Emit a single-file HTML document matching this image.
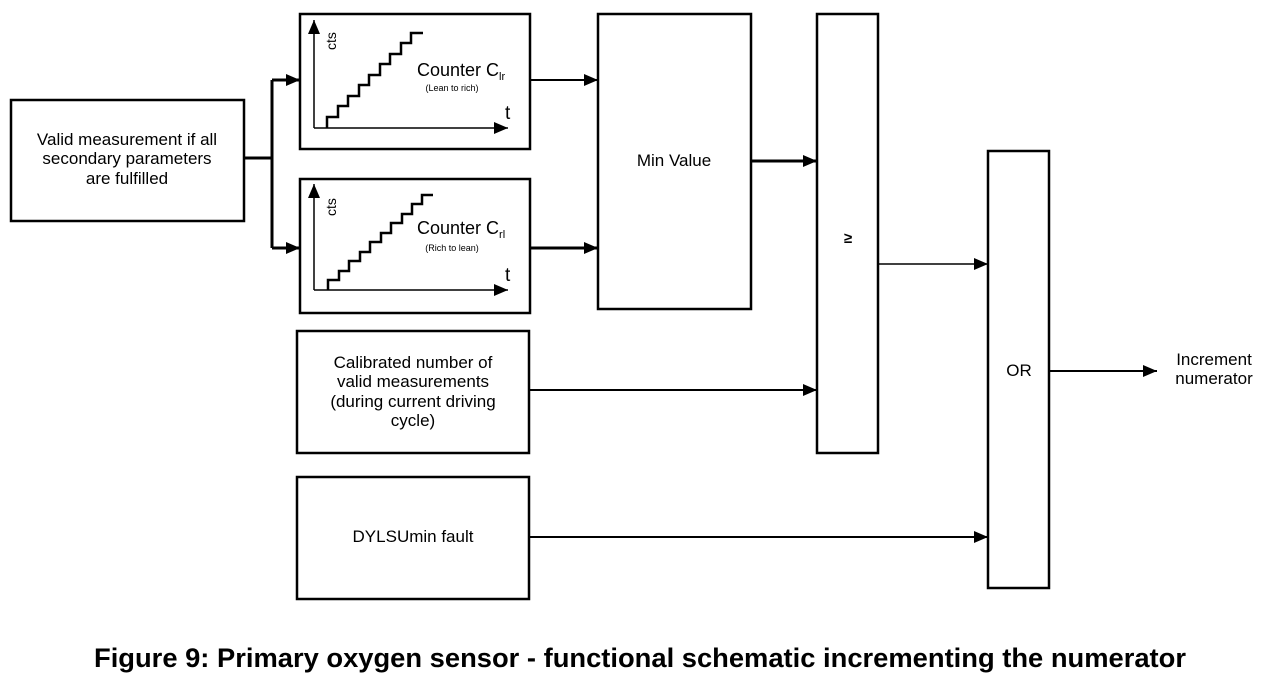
<!DOCTYPE html>
<html><head><style>
body{margin:0;background:#fff;}
svg text{font-family:"Liberation Sans",sans-serif;fill:#000;}
</style></head><body>
<svg width="1280" height="686" viewBox="0 0 1280 686" xmlns="http://www.w3.org/2000/svg">
<defs>
<marker id="b" markerWidth="14" markerHeight="12" refX="14" refY="6" orient="auto" markerUnits="userSpaceOnUse"><path d="M0,0 L14,6 L0,12 Z" fill="#000"/></marker>
</defs>
<g fill="none" stroke="#000" stroke-width="2.5">
<rect x="11" y="100" width="233" height="121"/>
<rect x="300" y="14" width="230" height="135"/>
<rect x="300" y="179" width="230" height="134"/>
<rect x="598" y="14" width="153" height="295"/>
<rect x="817" y="14" width="61" height="439"/>
<rect x="988" y="151" width="61" height="437"/>
<rect x="297" y="331" width="232" height="122"/>
<rect x="297" y="477" width="232" height="122"/>
</g>
<g fill="none" stroke="#000" stroke-width="3">
<path d="M244,158 H272"/>
<path d="M272,80 V248"/>
<path d="M272,80 H300" marker-end="url(#b)"/>
<path d="M272,248 H300" marker-end="url(#b)"/>
<path d="M751,161 H817" marker-end="url(#b)"/>
<path d="M530,248 H598" marker-end="url(#b)"/>
</g>
<g fill="none" stroke="#000" stroke-width="2">
<path d="M530,80 H598" marker-end="url(#b)"/>
<path d="M529,390 H817" marker-end="url(#b)"/>
<path d="M529,537 H988" marker-end="url(#b)"/>
<path d="M1049,371 H1157" marker-end="url(#b)"/>
</g>
<path d="M878,264 H988" stroke="#000" stroke-width="1.5" marker-end="url(#b)"/>
<g fill="none" stroke="#000" stroke-width="1.5">
<path d="M314,128 V20" marker-end="url(#b)"/>
<path d="M314,128 H508" marker-end="url(#b)"/>
<path d="M314,290 V184" marker-end="url(#b)"/>
<path d="M314,290 H508" marker-end="url(#b)"/>
</g>
<g fill="none" stroke="#000" stroke-width="2.5">
<path d="M327,128 V117 H338 V106 H348 V96 H359 V85 H369 V75 H380 V64 H390 V54 H401 V43 H411 V33 H423"/>
<path d="M328,290 V280 H339 V271 H349 V261 H360 V252 H370 V242 H381 V233 H391 V223 H402 V214 H412 V204 H422 V195 H433"/>
</g>
<g font-size="17" text-anchor="middle">
<text x="127" y="145">Valid measurement if all</text>
<text x="127" y="164">secondary parameters</text>
<text x="127" y="184">are fulfilled</text>
<text x="674" y="166">Min Value</text>
<text x="413" y="368">Calibrated number of</text>
<text x="413" y="387">valid measurements</text>
<text x="413" y="407">(during current driving</text>
<text x="413" y="426">cycle)</text>
<text x="413" y="542">DYLSUmin fault</text>
<text x="1019" y="376">OR</text>
<text x="1214" y="365">Increment</text>
<text x="1214" y="384">numerator</text>
<text x="848" y="243" font-size="15" font-weight="bold">≥</text>
</g>
<text x="417" y="76" font-size="18">Counter C<tspan font-size="11" dy="4">lr</tspan></text>
<text x="452" y="91" font-size="9" text-anchor="middle">(Lean to rich)</text>
<text x="417" y="234" font-size="18">Counter C<tspan font-size="11" dy="4">rl</tspan></text>
<text x="452" y="251" font-size="9" text-anchor="middle">(Rich to lean)</text>
<text x="505" y="119" font-size="19">t</text>
<text x="505" y="281" font-size="19">t</text>
<text transform="translate(336,50) rotate(-90)" font-size="14">cts</text>
<text transform="translate(336,216) rotate(-90)" font-size="14">cts</text>
<text x="640" y="667" font-size="27" font-weight="bold" text-anchor="middle" textLength="1092" lengthAdjust="spacingAndGlyphs">Figure 9: Primary oxygen sensor - functional schematic incrementing the numerator</text>
</svg>
</body></html>
